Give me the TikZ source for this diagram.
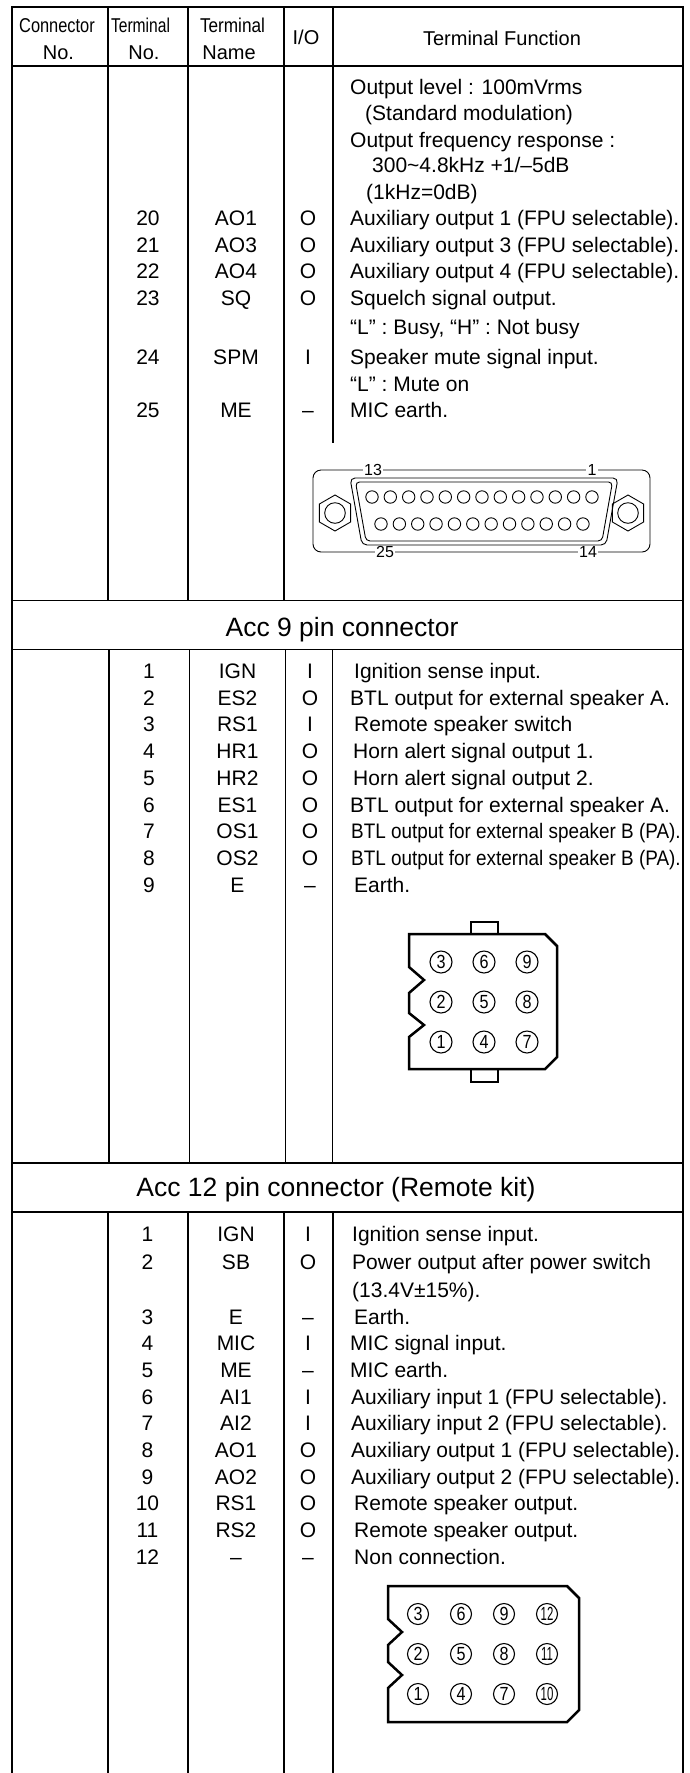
\documentclass[tikz,border=0pt]{standalone}
\usepackage{fontspec}
\setmainfont{Liberation Sans}
\usetikzlibrary{shapes.geometric}
\newcommand\trow[7]{%
  \node[txt,anchor=base] (#1n) at (\xnum,#2+7.5) {#3};
  \node[txt,anchor=base] (#1m) at (\xnam,#2+7.5) {#4};
  \node[txt,anchor=base] (#1i) at (\xio,#2+7.5) {#5};
  \node[txt,anchor=base west] (#1f) at (#6,#2+7.5) {#7};}
\newcommand\fline[4]{\node[txt,anchor=base west] (#1) at (#2,#3+7.5) {#4};}
\newcommand\cnum[1]{\scalebox{0.85}[1]{#1}}
\newcommand\cnumm[1]{\scalebox{0.6}[1]{#1}}
\begin{document}
\begin{tikzpicture}[x=1pt,y=-1pt,
  txt/.style={inner sep=0pt, font=\fontsize{21}{25}\selectfont},
  hdr/.style={inner sep=0pt, font=\fontsize{20}{24}\selectfont},
  sec/.style={inner sep=0pt, font=\fontsize{26.5}{30}\selectfont},
  grid/.style={line width=1.2pt},
  frame/.style={line width=2.2pt},
  thin/.style={line width=0.9pt},
  pin/.style={circle, draw, line width=0.9pt, inner sep=0pt, minimum size=12.4pt},
  lbl/.style={fill=white, inner sep=1.2pt, font=\fontsize{16}{16}\selectfont},
  cpin/.style={circle, draw, line width=1.1pt, inner sep=0pt, minimum size=21pt, font=\fontsize{19}{19}\selectfont},
  shell/.style={line width=2.5pt, line join=miter},
]
\useasboundingbox (0,0) rectangle (690,1773);

% ---------- frame and grid ----------
\draw[frame] (12,1773) -- (12,7) -- (683,7) -- (683,1773);
\draw[grid] (12,66) -- (683,66);
\draw[grid] (12,600.7) -- (683,600.7);
\draw[grid] (12,649.3) -- (683,649.3);
\draw[grid] (12,1163) -- (683,1163);
\draw[grid] (12,1212) -- (683,1212);
% section 1 columns
\draw[grid] (108,7) -- (108,600.7);
\draw[grid] (188,7) -- (188,600.7);
\draw[grid] (284,7) -- (284,600.7);
\draw[grid] (333,7) -- (333,443);
% section 2 columns
\draw[grid] (109,649.3) -- (109,1163);
\draw[grid] (189.5,649.3) -- (189.5,1163);
\draw[grid] (285.5,649.3) -- (285.5,1163);
\draw[grid] (332.5,649.3) -- (332.5,1163);
% section 3 columns
\draw[grid] (108,1212) -- (108,1773);
\draw[grid] (188,1212) -- (188,1773);
\draw[grid] (284,1212) -- (284,1773);
\draw[grid] (333,1212) -- (333,1773);

% ---------- header ----------
\node[hdr,anchor=base] (hc1) at (57,32) {\scalebox{0.82}[1]{Connector}};
\node[hdr,anchor=base] (hc2) at (58.5,59) {No.};
\node[hdr,anchor=base] (ht1) at (140.5,32) {\scalebox{0.78}[1]{Terminal}};
\node[hdr,anchor=base] (ht2) at (144,59) {No.};
\node[hdr,anchor=base] (hn1) at (232.5,32) {\scalebox{0.86}[1]{Terminal}};
\node[hdr,anchor=base] (hn2) at (229,59) {Name};
\node[hdr,anchor=base] (hio) at (306,44.5) {I/O};
\node[hdr,anchor=base] (hfn) at (502,45) {Terminal Function};

% ---------- section 1 ----------
\def\xnum{148}\def\xnam{236}\def\xio{308}
\fline{f1a}{350}{87}{Output level : 100mVrms}
\fline{f1b}{365}{113}{(Standard modulation)}
\fline{f1c}{350}{139.5}{Output frequency response :}
\fline{f1d}{372}{165}{300\textasciitilde4.8kHz +1/–5dB}
\fline{f1e}{366}{191.5}{(1kHz=0dB)}
\trow{a20}{218}{20}{AO1}{O}{350}{Auxiliary output 1 (FPU selectable).}
\trow{a21}{244.5}{21}{AO3}{O}{350}{Auxiliary output 3 (FPU selectable).}
\trow{a22}{271}{22}{AO4}{O}{350}{Auxiliary output 4 (FPU selectable).}
\trow{a23}{297.5}{23}{SQ}{O}{350}{Squelch signal output.}
\fline{f1f}{350}{327}{“L” : Busy, “H” : Not busy}
\trow{a24}{357}{24}{SPM}{I}{350}{Speaker mute signal input.}
\fline{f1g}{350}{383.5}{“L” : Mute on}
\trow{a25}{410}{25}{ME}{–}{350}{MIC earth.}

% D-sub 25 connector drawing
\draw[thin, rounded corners=8pt] (313,470) rectangle (650,552);
\node[lbl] (d13) at (373,470) {13};
\node[lbl] (d1) at (592,470) {1};
\node[lbl] (d25) at (385,552) {25};
\node[lbl] (d14) at (588,552) {14};
\node[regular polygon, regular polygon sides=6, shape border rotate=30, draw, thin, minimum size=36pt] (hexL) at (335,513) {};
\node[circle, draw, thin, minimum size=20.6pt, inner sep=0pt] (nutL) at (335,513) {};
\node[regular polygon, regular polygon sides=6, shape border rotate=30, draw, thin, minimum size=36pt] (hexR) at (628,513) {};
\node[circle, draw, thin, minimum size=20.6pt, inner sep=0pt] (nutR) at (628,513) {};
\draw[thin, rounded corners=5pt] (350,478) -- (618,478) -- (606,545) -- (362,545) -- cycle;
\draw[thin, rounded corners=4pt] (355.5,482) -- (612.5,482) -- (602,541) -- (366,541) -- cycle;
\foreach \i in {0,...,12} \node[pin] (pt\i) at ({372+18.33*\i},497) {};
\foreach \i in {0,...,11} \node[pin] (pb\i) at ({381+18.36*\i},524) {};

% ---------- section 2 ----------
\node[sec,anchor=base] (sec9) at (342,636.2) {Acc 9 pin connector};
\def\xnum{149}\def\xnam{237.5}\def\xio{310}
\trow{b1}{671}{1}{IGN}{I}{354}{Ignition sense input.}
\trow{b2}{697.7}{2}{ES2}{O}{350}{BTL output for external speaker A.}
\trow{b3}{724.4}{3}{RS1}{I}{354}{Remote speaker switch}
\trow{b4}{751}{4}{HR1}{O}{353}{Horn alert signal output 1.}
\trow{b5}{777.8}{5}{HR2}{O}{353}{Horn alert signal output 2.}
\trow{b6}{804.5}{6}{ES1}{O}{350}{BTL output for external speaker A.}
\trow{b7}{831}{7}{OS1}{O}{351}{\scalebox{0.9}[1]{BTL output for external speaker B (PA).}}
\trow{b8}{858}{8}{OS2}{O}{351}{\scalebox{0.9}[1]{BTL output for external speaker B (PA).}}
\trow{b9}{884.6}{9}{E}{–}{354}{Earth.}

% 9 pin connector drawing
\draw[shell] (409,934) -- (545,934) -- (557,946) -- (557,1057) -- (545,1069) -- (409,1069)
  -- (409,1037) -- (424,1025) -- (409,1013) -- (409,993) -- (424,980) -- (409,967) -- cycle;
\draw[shell] (471,934) -- (471,922) -- (498,922) -- (498,934);
\draw[shell] (471,1069) -- (471,1082) -- (498,1082) -- (498,1069);
\node[cpin,minimum size=22pt] (p9c3) at (441,962) {\cnum{3}};
\node[cpin,minimum size=22pt] (p9c6) at (484,962) {\cnum{6}};
\node[cpin,minimum size=22pt] (p9c9) at (527,962) {\cnum{9}};
\node[cpin,minimum size=22pt] (p9c2) at (441,1002) {\cnum{2}};
\node[cpin,minimum size=22pt] (p9c5) at (484,1002) {\cnum{5}};
\node[cpin,minimum size=22pt] (p9c8) at (527,1002) {\cnum{8}};
\node[cpin,minimum size=22pt] (p9c1) at (441,1042) {\cnum{1}};
\node[cpin,minimum size=22pt] (p9c4) at (484,1042) {\cnum{4}};
\node[cpin,minimum size=22pt] (p9c7) at (527,1042) {\cnum{7}};

% ---------- section 3 ----------
\node[sec,anchor=base] (sec12) at (336,1196.8) {Acc 12 pin connector (Remote kit)};
\def\xnum{147.5}\def\xnam{236}\def\xio{308}
\trow{c1}{1234}{1}{IGN}{I}{352}{Ignition sense input.}
\trow{c2}{1262}{2}{SB}{O}{352}{Power output after power switch}
\fline{f3a}{352}{1290}{(13.4V±15\%).}
\trow{c3}{1317}{3}{E}{–}{354}{Earth.}
\trow{c4}{1343}{4}{MIC}{I}{350}{MIC signal input.}
\trow{c5}{1370}{5}{ME}{–}{350}{MIC earth.}
\trow{c6}{1396.5}{6}{AI1}{I}{351}{Auxiliary input 1 (FPU selectable).}
\trow{c7}{1423}{7}{AI2}{I}{351}{Auxiliary input 2 (FPU selectable).}
\trow{c8}{1450}{8}{AO1}{O}{351}{Auxiliary output 1 (FPU selectable).}
\trow{c9}{1476.5}{9}{AO2}{O}{351}{Auxiliary output 2 (FPU selectable).}
\trow{c10}{1503}{10}{RS1}{O}{354}{Remote speaker output.}
\trow{c11}{1530}{11}{RS2}{O}{354}{Remote speaker output.}
\trow{c12}{1557}{12}{–}{–}{354}{Non connection.}

% 12 pin connector drawing
\draw[shell] (388,1586) -- (567,1586) -- (579,1598) -- (579,1710) -- (567,1722) -- (388,1722)
  -- (388,1688) -- (402,1675) -- (388,1662) -- (388,1645) -- (402,1632) -- (388,1619) -- cycle;
\node[cpin] (q3) at (418,1614) {\cnum{3}};
\node[cpin] (q6) at (461,1614) {\cnum{6}};
\node[cpin] (q9) at (504,1614) {\cnum{9}};
\node[cpin] (q12) at (547,1614) {\cnumm{12}};
\node[cpin] (q2) at (418,1654) {\cnum{2}};
\node[cpin] (q5) at (461,1654) {\cnum{5}};
\node[cpin] (q8) at (504,1654) {\cnum{8}};
\node[cpin] (q11) at (547,1654) {\cnumm{11}};
\node[cpin] (q1) at (418,1694) {\cnum{1}};
\node[cpin] (q4) at (461,1694) {\cnum{4}};
\node[cpin] (q7) at (504,1694) {\cnum{7}};
\node[cpin] (q10) at (547,1694) {\cnumm{10}};
\end{tikzpicture}
\end{document}
